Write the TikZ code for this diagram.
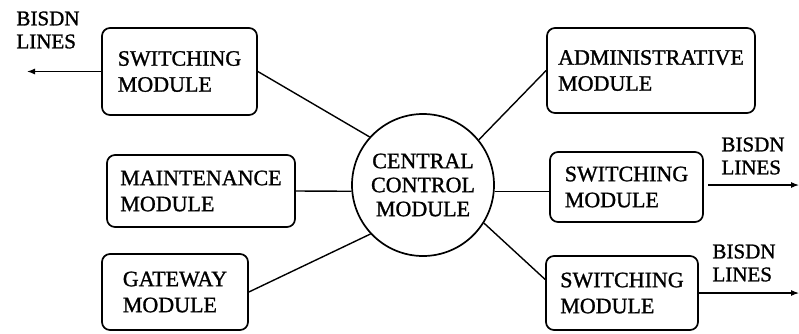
\documentclass[tikz,border=0pt]{standalone}
\usepackage{fontspec}
\setmainfont{Liberation Serif}[FakeBold=1.2]
\usetikzlibrary{arrows.meta}
\begin{document}
\begin{tikzpicture}[x=1pt,y=-1pt,
  every node/.style={font=\fontsize{22}{26}\selectfont},
  module/.style={draw,line width=1.7pt,rounded corners=8pt,align=left,inner sep=0pt},
  hub/.style={draw,circle,line width=1.7pt,minimum size=142pt,align=center,inner sep=0pt,
    font=\fontsize{22}{24}\selectfont},
  link/.style={line width=1.4pt},
  feedline/.style={line width=1.1pt,-{Latex[length=8pt,width=6pt]}},
  lineslabel/.style={align=left,inner sep=0pt,font=\fontsize{21}{23}\selectfont}]
\useasboundingbox (0,0) rectangle (799,333);

% central hub
\node[hub] (ccm) at (423,185) {CENTRAL\\CONTROL\\MODULE};

% modules on the left
\node[module,minimum width=155pt,minimum height=87pt] (swl) at (179.5,71.5) {SWITCHING\\MODULE};
\node[module,minimum width=188pt,minimum height=72pt] (mnt) at (201,191) {MAINTENANCE\\MODULE};
\node[module,minimum width=146pt,minimum height=76pt] (gw) at (175,292) {GATEWAY\\MODULE};

% modules on the right
\node[module,minimum width=208pt,minimum height=85pt] (adm) at (651,70.5) {ADMINISTRATIVE\\MODULE};
\node[module,minimum width=153pt,minimum height=70pt] (swm) at (626.5,187) {SWITCHING\\MODULE};
\node[module,minimum width=152pt,minimum height=74pt] (swb) at (622,293) {SWITCHING\\MODULE};

% spokes to the hub
\draw[link] (swl.east) -- (ccm.138);
\draw[link] (mnt.east) -- (ccm.185);
\draw[link] (gw.east) -- (ccm.223);
\draw[link] (adm.west) -- (ccm.39.5);
\draw[link] (ccm.-5) -- (ccm.-5 -| swm.west);
\draw[link] (ccm.-32) -- (swb.170);

% BISDN line outputs
\coordinate (leftend) at (27,0);
\coordinate (rightend) at (799,0);
\coordinate (gapm) at (708,185);
\draw[feedline] (swl.west) -- (swl.west -| leftend);
\draw[feedline] (gapm) -- (gapm -| rightend);
\draw[feedline] (swb.east) -- (swb.east -| rightend);

\node[lineslabel] (bl) at (48,30) {BISDN\\LINES};
\node[lineslabel] (bm) at (753,156) {BISDN\\LINES};
\node[lineslabel] (bb) at (744,263) {BISDN\\LINES};
\end{tikzpicture}
\end{document}
